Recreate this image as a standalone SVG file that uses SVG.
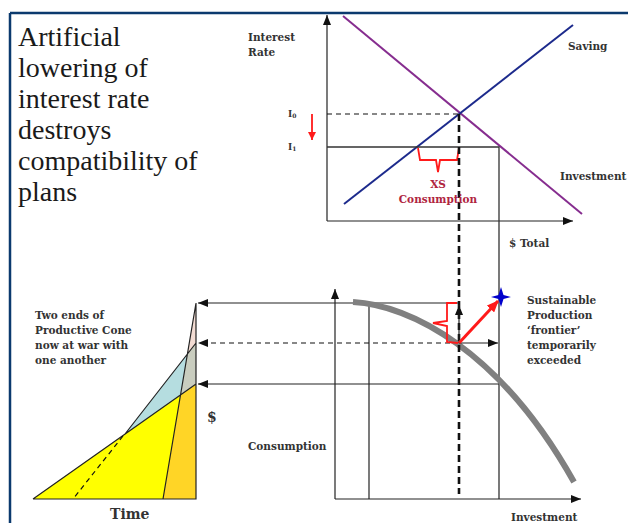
<svg xmlns="http://www.w3.org/2000/svg" width="628" height="523" viewBox="0 0 628 523">
<style>
.lbl{font-family:"DejaVu Serif","Liberation Serif",serif;font-weight:bold;font-size:10.5px;fill:#333}
.title{font-family:"Liberation Serif","DejaVu Serif",serif;font-size:28px;fill:#1a1a1a}
.ln{stroke:#222;stroke-width:1.2;fill:none}
.dash{stroke:#111;stroke-width:1.2;stroke-dasharray:5,4;fill:none}
.thickdash{stroke:#111;stroke-width:2.6;stroke-dasharray:7,4;fill:none}
.red{stroke:#ff1a1a;stroke-width:1.8;fill:none}
</style>
<defs>
<marker id="ah" markerUnits="userSpaceOnUse" markerWidth="10" markerHeight="8" refX="10" refY="4" orient="auto">
<path d="M0,0 L10,4 L0,8 Z" fill="#111"/>
</marker>
<marker id="ahr" markerUnits="userSpaceOnUse" markerWidth="12" markerHeight="10" refX="11" refY="5" orient="auto">
<path d="M0,0 L12,5 L0,10 Z" fill="#ff1a1a"/>
</marker>
<marker id="ahr2" markerUnits="userSpaceOnUse" markerWidth="8" markerHeight="8" refX="8" refY="4" orient="auto">
<path d="M0,0 L8,4 L0,8 Z" fill="#ff1a1a"/>
</marker>
</defs>
<rect width="628" height="523" fill="#fff"/>
<g id="border">
<path d="M10,13 H628 M10,13 V523" stroke="#0b3a6e" stroke-width="2.5" fill="none"/>
</g>
<g id="title">
<text class="title" x="18" y="46">Artificial</text>
<text class="title" x="18" y="77">lowering of</text>
<text class="title" x="18" y="108">interest rate</text>
<text class="title" x="18" y="139">destroys</text>
<text class="title" x="18" y="170">compatibility of</text>
<text class="title" x="18" y="201">plans</text>
</g>
<g id="cone">
<polygon points="33,499 196,384 196,499" fill="#ffff00"/>
<polygon points="180.5,395 196,384 196,499 163,499" fill="#ffd526"/>
<polygon points="125,434 187.4,354 180.5,395" fill="#b5dde0"/>
<polygon points="187.4,354 196,343 196,384 180.5,395" fill="#c9cdbf"/>
<polygon points="196,303 196,343 187.4,354" fill="#f3dcd3"/>
<path class="ln" d="M33,499 H196 V303 M33,499 L196,384 M125,434 L196,343 M196,303 L163,499"/>
<path class="dash" d="M123,436 L73,499"/>
</g>
<g id="top-chart">
<path class="ln" d="M327,221 V15" marker-end="url(#ah)"/>
<path class="ln" d="M327,221 H573" marker-end="url(#ah)"/>
<line x1="343" y1="16" x2="582" y2="214" stroke="#862d8f" stroke-width="2"/>
<line x1="344" y1="204" x2="573" y2="25" stroke="#1c2a8c" stroke-width="2"/>
<path class="dash" d="M327,114 H459"/>
<path d="M327,147 H499 V499" stroke="#333" stroke-width="1.3" fill="none"/>
<path class="red" d="M312,114 V140" marker-end="url(#ahr2)" stroke-width="1.6"/>
<path class="red" d="M418,148 L420,160 H436 L438,172 L440,160 H457 L459,148"/>
</g>
<g id="bottom-chart">
<path class="ln" d="M335,499 V289" marker-end="url(#ah)"/>
<path class="ln" d="M335,499 H581" marker-end="url(#ah)"/>
<path class="ln" d="M369,303 V499"/>
<path class="ln" d="M459,303 H198" marker-end="url(#ah)"/>
<path class="dash" d="M459,343 H198" marker-end="url(#ah)"/>
<path class="ln" d="M499,384 H198" marker-end="url(#ah)"/>
<path d="M353,302 C410,305 500,350 574,482" stroke="#808080" stroke-width="6" fill="none"/>
</g>
<g id="connectors">
<path class="thickdash" d="M459,114 V494"/>
<path class="ln" d="M459,343 V305" marker-end="url(#ah)"/>
<path class="ln" d="M459,343 H498" marker-end="url(#ah)"/>
<path class="red" d="M457,303 H447 V321 L433,323 L447,326 V342 L458,343"/>
<path d="M459,343 L498,301" stroke="#ff1a1a" stroke-width="3" fill="none" marker-end="url(#ahr)"/>
</g>
<g id="star">
<path d="M501,287 L503.5,295 L511,297 L503.5,299 L501,307 L498.5,299 L491,297 L498.5,295 Z" fill="#0000cc"/>
</g>
<g id="labels">
<text class="lbl" x="248" y="41">Interest</text>
<text class="lbl" x="248" y="56">Rate</text>
<text class="lbl" x="288" y="117" style="font-size:9px">I<tspan style="font-size:6px" dy="1">0</tspan></text>
<text class="lbl" x="288" y="150" style="font-size:9px">I<tspan style="font-size:6px" dy="1">1</tspan></text>
<text class="lbl" x="568" y="50">Saving</text>
<text class="lbl" x="560" y="180">Investment</text>
<text class="lbl" x="509" y="247">$ Total</text>
<text class="lbl" x="438" y="188" text-anchor="middle" style="fill:#b0253f">XS</text>
<text class="lbl" x="438" y="203" text-anchor="middle" style="fill:#b0253f">Consumption</text>
<text class="lbl" x="527" y="304">Sustainable</text>
<text class="lbl" x="527" y="319">Production</text>
<text class="lbl" x="527" y="334">‘frontier’</text>
<text class="lbl" x="527" y="349">temporarily</text>
<text class="lbl" x="527" y="364">exceeded</text>
<text class="lbl" x="35" y="319">Two ends of</text>
<text class="lbl" x="35" y="334">Productive Cone</text>
<text class="lbl" x="35" y="349">now at war with</text>
<text class="lbl" x="35" y="364">one another</text>
<text class="lbl" x="248" y="450">Consumption</text>
<text class="lbl" x="511" y="521">Investment</text>
<text class="lbl" x="207" y="422" style="font-size:14px">$</text>
<text class="lbl" x="110" y="519" style="font-size:14px">Time</text>
</g>
</svg>
